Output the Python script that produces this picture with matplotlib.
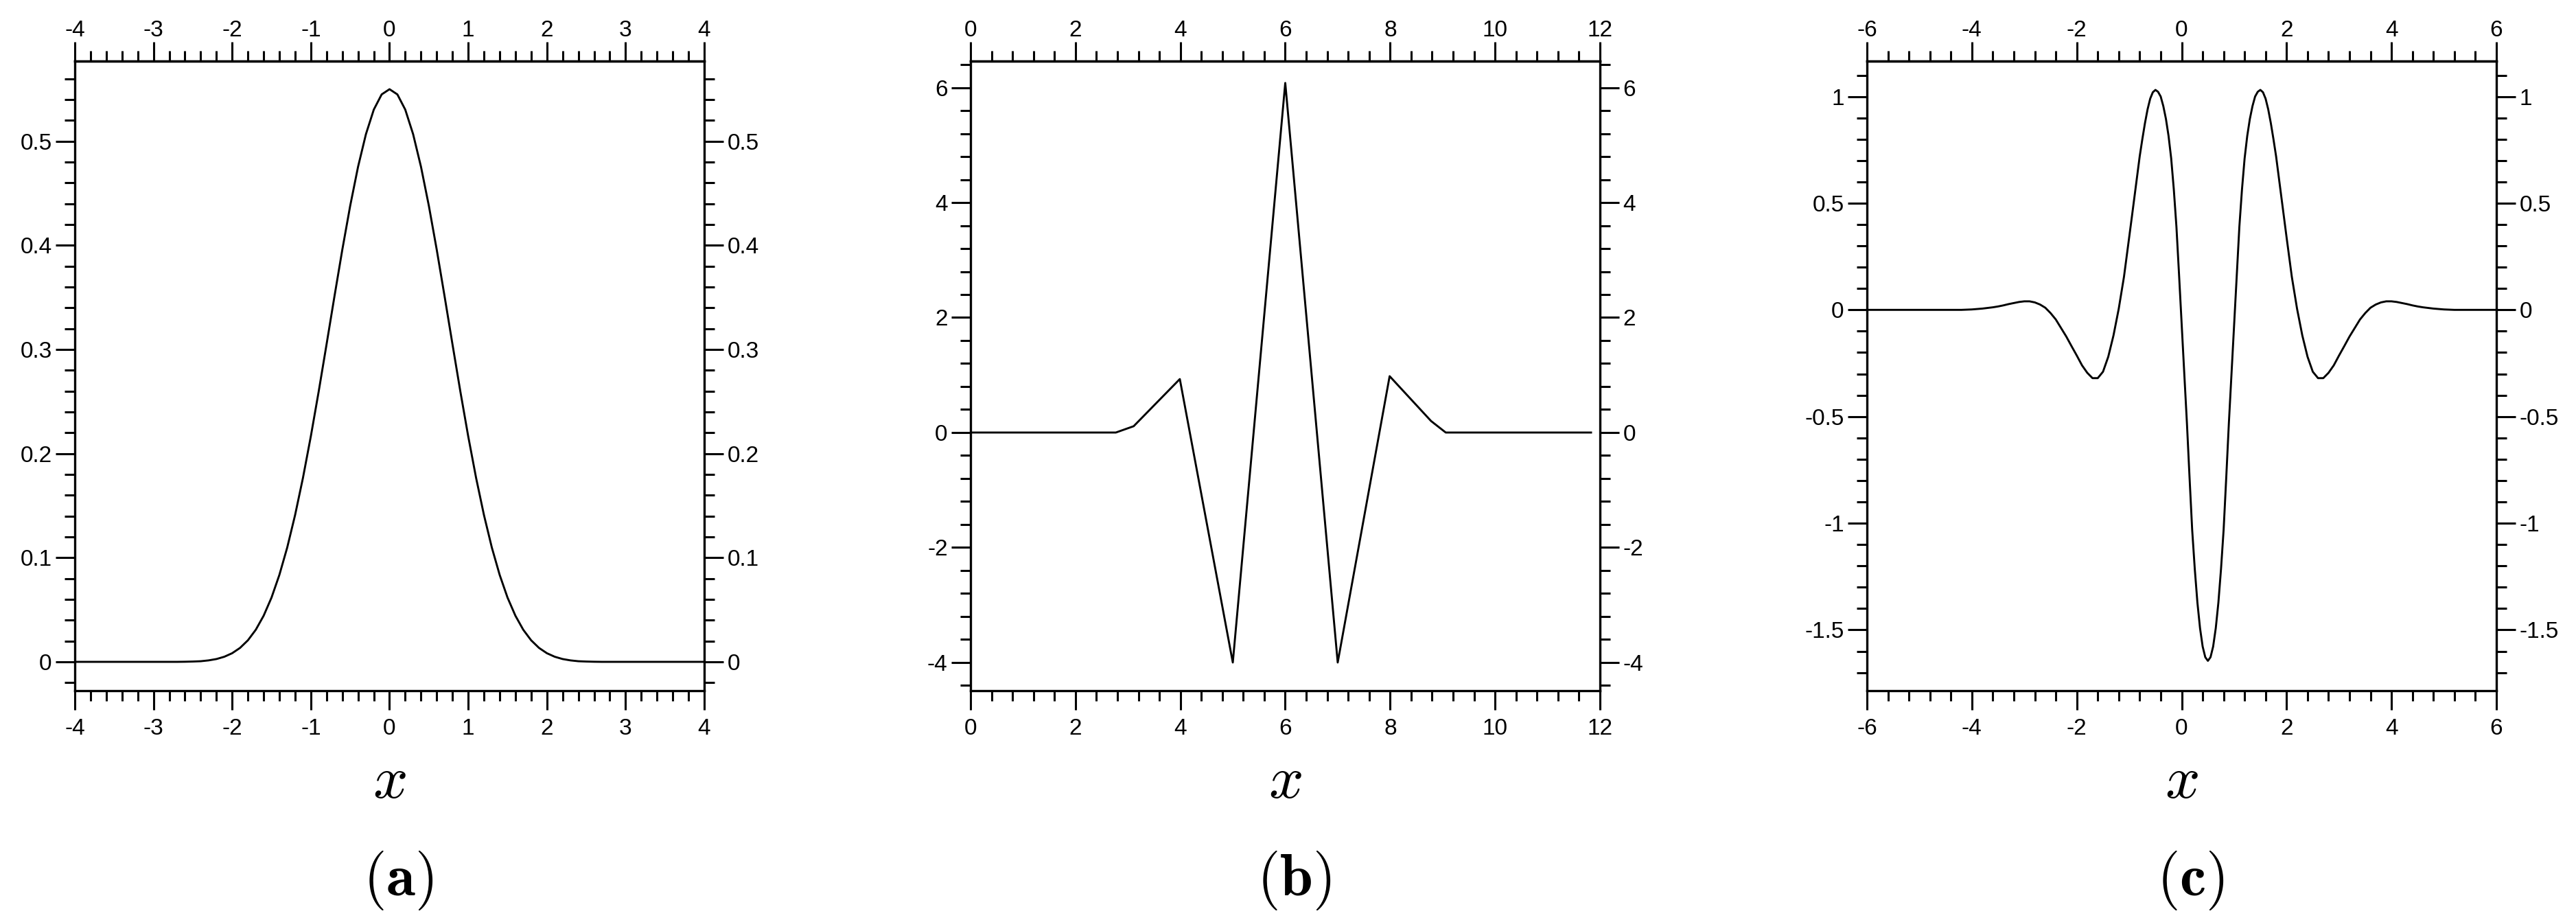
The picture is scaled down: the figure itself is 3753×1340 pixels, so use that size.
import numpy as np
import matplotlib as mpl
mpl.rcParams["font.family"] = "Liberation Sans"
mpl.rcParams["mathtext.fontset"] = "cm"
mpl.rcParams["axes.unicode_minus"] = False
import matplotlib.pyplot as plt
from matplotlib.ticker import FixedLocator, FuncFormatter

# (a) smooth bump, sampled every 0.1 on [-4, 4]
a_x = np.round(np.linspace(-4, 4, 81), 1)
a_y = [0, 0, 0, 0, 0, 0, 0, 0, 0, 0, 0, 0, 0, 0,
       0.0001, 0.0003, 0.0006, 0.0014, 0.0027, 0.0049, 0.0083, 0.0134,
       0.0207, 0.0308, 0.0443, 0.0617, 0.0835, 0.1099, 0.1411, 0.1768,
       0.2167, 0.2598, 0.3051, 0.351, 0.3959, 0.438, 0.4755, 0.5068,
       0.5304, 0.545,
       0.55,
       0.545, 0.5304, 0.5068, 0.4755, 0.438, 0.3959, 0.351, 0.3051,
       0.2598, 0.2167, 0.1768, 0.1411, 0.1099, 0.0835, 0.0617, 0.0443,
       0.0308, 0.0207, 0.0134, 0.0083, 0.0049, 0.0027, 0.0014, 0.0006,
       0.0003, 0.0001,
       0, 0, 0, 0, 0, 0, 0, 0, 0, 0, 0, 0, 0, 0]

# (b) piecewise linear, corner points
b_x = [0, 2.77, 3.11, 3.99, 5.0, 6.0, 7.0, 7.99, 8.78, 9.06, 11.83]
b_y = [0, 0, 0.11, 0.93, -4.0, 6.08, -4.0, 0.98, 0.2, 0, 0]

# (c) oscillating bump: 0.1 steps on the tails, 0.05 steps on [-1, 2]
c_x = np.round(np.concatenate([np.linspace(-6, -1.1, 50),
                               np.linspace(-1, 2, 61),
                               np.linspace(2.1, 6, 40)]), 2)
c_y = [0, 0, 0, 0, 0, 0, 0, 0, 0, 0, 0, 0, 0, 0, 0, 0, 0, 0, 0,
       0.001, 0.002, 0.004, 0.006, 0.009, 0.012, 0.016, 0.021, 0.027,
       0.032, 0.037, 0.040, 0.040, 0.035, 0.025, 0.010, -0.015, -0.045,
       -0.085, -0.125, -0.170, -0.214, -0.260, -0.295, -0.320, -0.320,
       -0.290, -0.220, -0.120, 0.005, 0.155,
       # x = -1.0 .. 2.0
       0.340, 0.435, 0.530, 0.625, 0.720, 0.800, 0.875, 0.940, 0.990,
       1.020, 1.031, 1.022, 1.000, 0.955, 0.895, 0.815, 0.710, 0.565,
       0.390, 0.165, -0.070, -0.300, -0.530, -0.785, -1.030, -1.215,
       -1.372, -1.492, -1.578, -1.628,
       -1.645,
       -1.628, -1.578, -1.492, -1.372, -1.215, -1.030, -0.785, -0.530,
       -0.300, -0.070, 0.165, 0.390, 0.565, 0.710, 0.815, 0.895, 0.955,
       1.000, 1.022, 1.031, 1.020, 0.990, 0.940, 0.875, 0.800, 0.720,
       0.625, 0.530, 0.435, 0.340,
       # x = 2.1 .. 6.0
       0.155, 0.005, -0.120, -0.220, -0.290, -0.320, -0.320, -0.295,
       -0.260, -0.214, -0.170, -0.125, -0.085, -0.045, -0.015, 0.010,
       0.025, 0.035, 0.040, 0.040, 0.037, 0.032, 0.027, 0.021, 0.016,
       0.012, 0.009, 0.006, 0.004, 0.002, 0.001,
       0, 0, 0, 0, 0, 0, 0, 0, 0]

panel_labels = ["a", "b", "c"]

W, H = 3753, 1340
fig = plt.figure(figsize=(W / 100, H / 100), dpi=100)

fmt = FuncFormatter(lambda v, p: "%g" % (round(v, 6) + 0.0))


def ticks_in(lim, step):
    n0 = int(np.ceil(lim[0] / step - 1e-9))
    n1 = int(np.floor(lim[1] / step + 1e-9))
    return np.round(np.arange(n0, n1 + 1) * step, 6)


def style_ticks(axis_obj, lim, maj, mnr):
    axis_obj.set_major_locator(FixedLocator(ticks_in(lim, maj)))
    axis_obj.set_minor_locator(FixedLocator(ticks_in(lim, mnr)))
    axis_obj.set_major_formatter(fmt)


def make_panel(left, x, y, xlim, ylim, xt, yt, label):
    ax = fig.add_axes([left / W, 1 - 1006 / H, 917 / W, 917 / H])
    ax.plot(x, y, color="k", lw=2.1)
    ax.set_xlim(xlim)
    ax.set_ylim(ylim)
    style_ticks(ax.xaxis, xlim, *xt)
    style_ticks(ax.yaxis, ylim, *yt)
    ax.tick_params(which="both", direction="out", width=2.2, labelsize=24,
                   top=False, right=True, labelright=True, colors="k")
    ax.tick_params(which="major", length=20)
    ax.tick_params(which="minor", length=10.5)
    ax.tick_params(axis="x", pad=9)
    ax.tick_params(axis="y", pad=4)
    for s in ax.spines.values():
        s.set_linewidth(2.4)

    top = ax.secondary_xaxis("top")
    style_ticks(top.xaxis, xlim, *xt)
    top.tick_params(which="both", direction="out", width=2.2, labelsize=24)
    top.tick_params(which="major", length=20, pad=1)
    top.tick_params(which="minor", length=10.5)
    top.spines["top"].set_linewidth(2.4)

    cx = (left + 917 / 2) / W
    fig.text(cx, 1 - 1162 / H, "$x$", fontsize=64, ha="center", va="baseline")
    fig.text(cx + 13 / W, 1 - 1304 / H, r"$(\mathbf{%s})$" % label,
             fontsize=62, ha="center", va="baseline")
    return ax


make_panel(109, a_x, a_y, (-4, 4), (-0.0277, 0.577), (1, 0.2), (0.1, 0.02), panel_labels[0])
make_panel(1414, b_x, b_y, (0, 12), (-4.49, 6.46), (2, 0.4), (2, 0.4), panel_labels[1])
make_panel(2720, c_x, c_y, (-6, 6), (-1.785, 1.166), (2, 0.4), (0.5, 0.1), panel_labels[2])

fig.savefig("out.png", dpi=100)
